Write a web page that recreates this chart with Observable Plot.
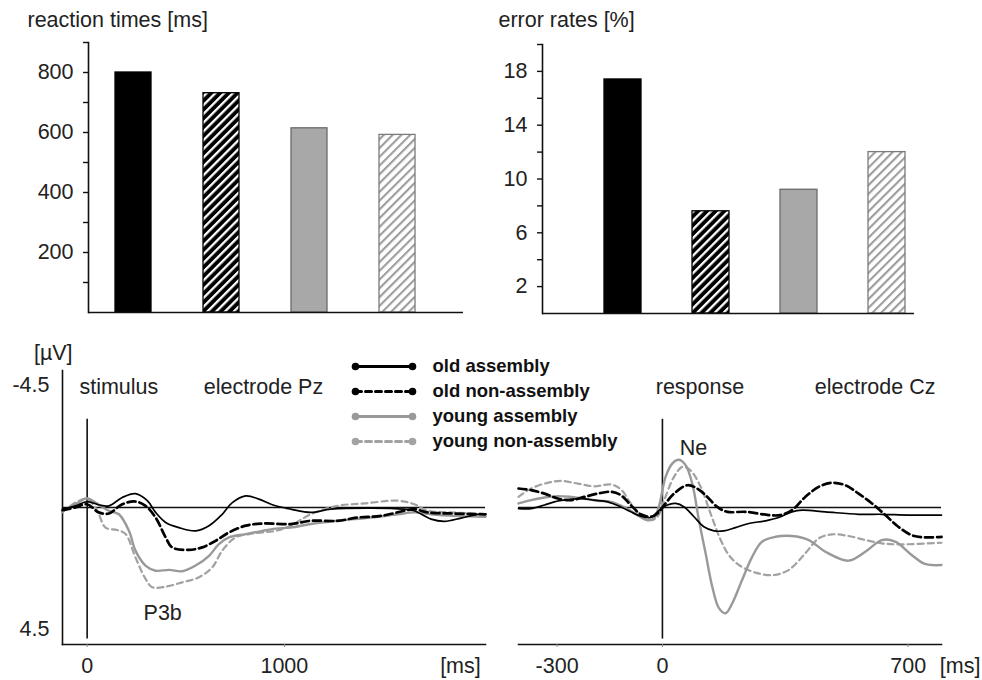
<!DOCTYPE html>
<html><head><meta charset="utf-8">
<script src="https://cdn.jsdelivr.net/npm/d3@7"></script>
<script src="https://cdn.jsdelivr.net/npm/@observablehq/plot@0.6"></script>
<style>
body{margin:0;background:#fff;}
#fig{position:relative;width:982px;height:680px;overflow:hidden;background:#fff;}
#fig > svg{position:absolute;}
</style></head><body><div id="fig"></div>
<script>
// ---------- data ----------
const groups = ["old assembly", "old non-assembly", "young assembly", "young non-assembly"];
const reactionTimes = [800, 731, 614, 592];
const errorRates = [17.4, 7.6, 9.2, 12.0];
const rtTicks = [100, 200, 300, 400, 500, 600, 700, 800, 900];
const rtLabels = [200, 400, 600, 800];
const erTicks = [2, 4, 6, 8, 10, 12, 14, 16, 18, 20];
const erLabels = [2, 6, 10, 14, 18];
const voltLabels = [-4.5, 4.5];
const pzTicks = [0, 1000];
const czTicks = [-300, 0, 700];

// ERP waveforms: [time ms, amplitude µV] (negative plotted upward)
const pzOldAssembly = [[-125,0.06],[-60,-0.06],[0,-0.22],[59,-0.1],[110,-0.06],[178,-0.37],[245,-0.51],[305,-0.25],[347,0.18],[398,0.55],[465,0.74],[550,0.86],[618,0.67],[685,0.25],[736,-0.18],[804,-0.43],[871,-0.31],[939,-0.1],[1032,0.06],[1134,0.18],[1236,0.06],[1439,0.02],[1608,0.06],[1659,0.12],[1744,0.43],[1812,0.51],[1896,0.39],[1981,0.25],[2020,0.25]];
const pzOldNonAssembly = [[-125,0.1],[-60,0],[0,-0.12],[59,0.18],[110,0.22],[178,-0.12],[245,-0.22],[296,-0.06],[347,0.37],[398,1.1],[431,1.47],[516,1.56],[584,1.47],[651,1.23],[719,0.92],[804,0.67],[888,0.59],[1032,0.61],[1134,0.49],[1270,0.49],[1371,0.37],[1490,0.31],[1608,0.12],[1659,0.06],[1727,0.18],[1845,0.22],[2020,0.25]];
const pzYoungAssembly = [[-125,0.15],[-60,-0.12],[0,-0.34],[42,-0.18],[110,0.12],[161,0.25],[212,0.86],[245,1.59],[296,2.14],[347,2.33],[415,2.3],[482,2.35],[550,2.14],[618,1.78],[668,1.35],[719,1.1],[804,0.98],[888,0.86],[956,0.78],[1032,0.74],[1134,0.61],[1270,0.49],[1439,0.37],[1575,0.25],[1659,0.18],[1744,0.25],[1862,0.31],[2020,0.34]];
const pzYoungNonAssembly = [[-125,0.18],[-60,-0.18],[0,-0.31],[51,0.12],[93,0.74],[152,0.83],[195,0.98],[245,1.84],[296,2.63],[330,2.94],[398,2.92],[482,2.76],[567,2.57],[635,2.2],[685,1.59],[753,1.1],[821,0.98],[888,0.92],[956,0.86],[1032,0.67],[1134,0.25],[1270,-0.06],[1405,-0.15],[1575,-0.25],[1659,-0.12],[1727,0.12],[1845,0.18],[2020,0.25]];

const czOldAssembly = [[-410,0.04],[-374,0.04],[-336,-0.09],[-308,-0.21],[-270,-0.29],[-232,-0.33],[-194,-0.27],[-156,-0.21],[-118,-0.02],[-90,0.16],[-62,0.32],[-33,0.37],[-14,0.16],[14,-0.09],[38,-0.15],[62,-0.02],[90,0.34],[118,0.71],[147,0.86],[175,0.86],[208,0.74],[246,0.59],[294,0.49],[331,0.37],[369,0.16],[398,0.1],[464,0.16],[559,0.25],[625,0.25],[701,0.28],[795,0.28]];
const czOldNonAssembly = [[-410,-0.7],[-374,-0.64],[-336,-0.51],[-298,-0.33],[-260,-0.27],[-223,-0.39],[-185,-0.51],[-147,-0.58],[-118,-0.45],[-90,-0.09],[-62,0.25],[-33,0.34],[-14,0.22],[5,-0.09],[33,-0.51],[71,-0.82],[99,-0.7],[128,-0.39],[156,-0.02],[185,0.16],[237,0.16],[303,0.28],[336,0.28],[369,0.1],[407,-0.39],[445,-0.76],[483,-0.91],[521,-0.82],[559,-0.51],[597,-0.15],[635,0.28],[672,0.71],[710,1.02],[748,1.1],[795,1.08]];
const czYoungAssembly = [[-410,-0.15],[-374,-0.27],[-336,-0.37],[-298,-0.42],[-260,-0.39],[-223,-0.33],[-185,-0.25],[-147,-0.21],[-109,-0.02],[-71,0.28],[-43,0.47],[-24,0.4],[-9,-0.09],[9,-1.13],[28,-1.62],[47,-1.76],[66,-1.56],[85,-0.88],[104,0.47],[123,1.69],[142,2.92],[161,3.71],[180,3.9],[199,3.53],[227,2.67],[256,1.81],[284,1.26],[322,1.08],[369,1.05],[417,1.2],[464,1.63],[530,1.96],[578,1.63],[625,1.2],[663,1.26],[710,1.75],[748,2.08],[795,2.12]];
const czYoungNonAssembly = [[-410,-0.39],[-374,-0.7],[-327,-0.91],[-289,-0.98],[-241,-0.88],[-194,-0.78],[-147,-0.85],[-118,-0.66],[-90,-0.15],[-62,0.28],[-33,0.47],[-14,0.34],[5,-0.27],[33,-1.13],[57,-1.5],[80,-1.37],[109,-0.76],[137,0.22],[166,1.2],[189,1.75],[218,2.12],[265,2.4],[317,2.49],[360,2.3],[407,1.69],[445,1.14],[483,0.99],[530,1.05],[578,1.2],[625,1.32],[672,1.36],[795,1.3]];

// annotation labels (time ms, µV)
const pzNotes = [
  {t: -39, v: -4.43, label: "stimulus"},
  {t: 591, v: -4.43, label: "electrode Pz"},
  {t: 286, v: 3.91, label: "P3b"},
  {t: -270, v: -5.7, label: "[µV]"},
  {t: 1790, v: 5.83, label: "[ms]"}
];
const czNotes = [
  {t: -19, v: -4.43, label: "response"},
  {t: 434, v: -4.43, label: "electrode Cz"},
  {t: 49, v: -2.18, label: "Ne"},
  {t: 790, v: 5.83, label: "[ms]"}
];

// ---------- styles ----------
const FONT = "'Liberation Sans', Arial, Helvetica, sans-serif";
const TXT = "#222";
const barFill = {"old assembly": "#000", "old non-assembly": "url(#hatchDark)", "young assembly": "#a8a8a8", "young non-assembly": "url(#hatchLight)"};
const barStroke = {"old assembly": "#000", "old non-assembly": "#000", "young assembly": "#6a6a6a", "young non-assembly": "#7a7a7a"};
const lineStyle = {
  "old assembly": {stroke: "#000", w: 1.7, dash: null, lw: 3},
  "old non-assembly": {stroke: "#000", w: 2.7, dash: "8,4", lw: 3},
  "young assembly": {stroke: "#999", w: 2.4, dash: null, lw: 3},
  "young non-assembly": {stroke: "#a2a2a2", w: 2.2, dash: "6,4", lw: 3}
};
const drawOrder = ["young non-assembly", "young assembly", "old non-assembly", "old assembly"];

const fig = document.getElementById("fig");
// shared pattern definitions
const defs = d3.select(fig).append("svg").attr("width", 0).attr("height", 0).style("position", "absolute");
defs.append("defs").html(`
  <pattern id="hatchDark" patternUnits="userSpaceOnUse" width="6.2" height="6.2" patternTransform="rotate(45)">
    <rect width="6.2" height="6.2" fill="#000"/><rect width="2.3" height="6.2" fill="#fff"/>
  </pattern>
  <pattern id="hatchLight" patternUnits="userSpaceOnUse" width="6.2" height="6.2" patternTransform="rotate(45)">
    <rect width="6.2" height="6.2" fill="#fff"/><rect width="2.1" height="6.2" fill="#9c9c9c"/>
  </pattern>`);

function place(svg, left, top) {
  svg.style.left = left + "px";
  svg.style.top = top + "px";
  fig.appendChild(svg);
}
const baseStyle = {fontFamily: FONT, fontSize: "21.5px", color: TXT, background: "transparent", overflow: "visible"};

function barPanel(o) {
  const data = groups.map((g, i) => ({group: g, value: o.values[i]}));
  return Plot.plot({
    width: 491, height: 330,
    marginLeft: o.ml, marginRight: o.mr, marginTop: o.mt, marginBottom: o.mb,
    style: baseStyle,
    color: {type: "identity"},
    x: {type: "band", domain: groups, range: o.range, paddingInner: o.pi, paddingOuter: o.po, axis: null},
    y: {domain: o.domain, axis: null},
    marks: [
      Plot.barY(data, {x: "group", y: "value", fill: d => barFill[d.group], stroke: d => barStroke[d.group], strokeWidth: 1.3}),
      Plot.ruleY([0], {stroke: "#111", strokeWidth: 1.6}),
      Plot.frame({anchor: "left", stroke: "#111", strokeWidth: 1.6}),
      Plot.axisY({ticks: o.ticks, tickSize: 5, tickPadding: 10, stroke: "#111", strokeWidth: 1.4, label: null,
        tickFormat: d => o.labels.includes(d) ? String(d) : ""}),
      Plot.text([o.title], {frameAnchor: "top-left", dx: o.tdx, dy: o.tdy, textAnchor: "start", lineAnchor: "middle", fill: TXT})
    ]
  });
}

place(barPanel({values: reactionTimes, domain: [0, 900], ticks: rtTicks, labels: rtLabels,
  ml: 88, mr: 28, mt: 42, mb: 18, range: [89, 442], pi: 0.59, po: 0.295,
  title: "reaction times [ms]", tdx: -61, tdy: -22}), 0, 0);
place(barPanel({values: errorRates, domain: [0, 20], ticks: erTicks, labels: erLabels,
  ml: 51, mr: 68, mt: 44, mb: 17, range: [86, 440], pi: 0.58, po: 0.29,
  title: "error rates [%]", tdx: -44, tdy: -24}), 491, 0);

const pzSeries = {"old assembly": pzOldAssembly, "old non-assembly": pzOldNonAssembly, "young assembly": pzYoungAssembly, "young non-assembly": pzYoungNonAssembly};
const czSeries = {"old assembly": czOldAssembly, "old non-assembly": czOldNonAssembly, "young assembly": czYoungAssembly, "young non-assembly": czYoungNonAssembly};

function erpPanel(o) {
  const marks = [];
  if (o.yAxis) {
    marks.push(Plot.frame({anchor: "left", stroke: "#111", strokeWidth: 1.6}));
    marks.push(Plot.axisY({ticks: voltLabels, tickSize: 0, tickPadding: 13, label: null, tickFormat: d => String(d), fill: TXT}));
  }
  marks.push(Plot.frame({anchor: "bottom", stroke: "#111", strokeWidth: 1.6}));
  marks.push(Plot.axisX({ticks: o.ticks, tickSize: 3, tickPadding: 10.5, label: null, tickFormat: d => String(d), stroke: "#888", fill: TXT}));
  marks.push(Plot.ruleY([0], {stroke: "#111", strokeWidth: 1.6}));
  marks.push(Plot.ruleX([0], {y1: -3.25, y2: 4.85, stroke: "#111", strokeWidth: 1.6}));
  for (const g of drawOrder) {
    const s = lineStyle[g];
    marks.push(Plot.line(o.series[g], {x: d => d[0], y: d => d[1], curve: "catmull-rom",
      stroke: s.stroke, strokeWidth: s.w, strokeDasharray: s.dash || undefined}));
  }
  marks.push(Plot.text(o.notes, {x: "t", y: "v", text: "label", textAnchor: "start", fill: TXT}));
  return Plot.plot({
    width: 491, height: 350,
    marginLeft: o.ml, marginRight: o.mr, marginTop: 40, marginBottom: 36,
    style: baseStyle,
    x: {domain: o.xDomain, axis: null},
    y: {domain: [5.05, -5.05], axis: null},
    marks
  });
}

place(erpPanel({series: pzSeries, notes: pzNotes, ticks: pzTicks, xDomain: [-125, 2020], ml: 62, mr: 6, yAxis: true}), 0, 330);
place(erpPanel({series: czSeries, notes: czNotes, ticks: czTicks, xDomain: [-410, 795], ml: 27, mr: 41, yAxis: false}), 491, 330);

// legend
const legendRows = groups.map(g => ({group: g}));
const legendEnds = groups.flatMap(g => [{group: g, p: 0}, {group: g, p: 1}]);
const legend = Plot.plot({
  width: 290, height: 115, margin: 0,
  style: {...baseStyle, fontSize: "18.5px"},
  x: {domain: [0, 1], range: [10, 67], axis: null},
  y: {type: "point", domain: groups, range: [20, 97], padding: 0, axis: null},
  marks: [
    ...groups.map(g => Plot.line(legendEnds.filter(d => d.group === g), {x: "p", y: "group",
      stroke: lineStyle[g].stroke, strokeWidth: lineStyle[g].lw, strokeDasharray: lineStyle[g].dash ? "6,4" : undefined})),
    Plot.dot(legendEnds, {x: "p", y: "group", r: 3.8, fill: d => lineStyle[d.group].stroke, stroke: "none"}),
    Plot.text(legendRows, {x: () => 1, y: "group", text: "group", dx: 20, textAnchor: "start", fontWeight: "bold", fill: "#111"})
  ]
});
place(legend, 345, 345);
</script></body></html>
